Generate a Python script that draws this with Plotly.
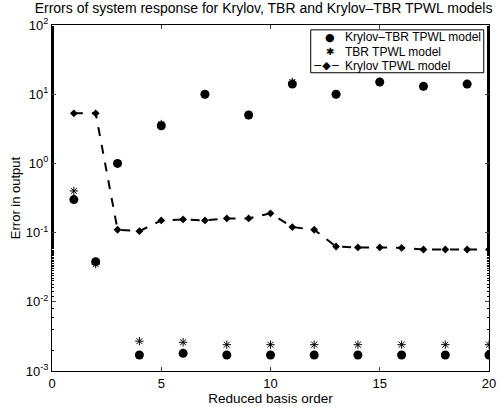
import plotly.graph_objects as go

x = list(range(1, 21))
krylov_tbr = [0.30, 0.038, 1.0, 0.0017, 3.5, 0.0018, 10.0, 0.0017, 5.0, 0.0017,
              14.0, 0.0017, 10.0, 0.0017, 15.0, 0.0017, 13.0, 0.0017, 14.0, 0.0017]
tbr = [0.40, 0.035, 1.0, 0.0027, 3.7, 0.0026, 10.0, 0.0024, 5.0, 0.0024,
       15.0, 0.0024, 10.0, 0.0024, 15.0, 0.0024, 13.0, 0.0024, 14.0, 0.0024]
krylov = [5.3, 5.3, 0.11, 0.105, 0.15, 0.155, 0.15, 0.16, 0.16, 0.19,
          0.12, 0.11, 0.063, 0.061, 0.061, 0.06, 0.057, 0.057, 0.057, 0.057]

names = ["Krylov\u2013TBR TPWL model", "TBR TPWL model", "Krylov TPWL model"]
legend_glyphs = ["\u25CF", "\u2731", "\u2212\u25C6\u2212"]

ytick_vals = [1e-3, 1e-2, 1e-1, 1, 10, 100]
ytick_text = ["10<sup>-3</sup>", "10<sup>-2</sup>", "10<sup>-1</sup>", "10<sup>0</sup>", "10<sup>1</sup>", "10<sup>2</sup>"]
xtick_vals = [0, 5, 10, 15, 20]

FONT = "Liberation Sans, Arial, Helvetica, sans-serif"

fig = go.Figure()
fig.add_trace(go.Scatter(x=x, y=krylov_tbr, mode="markers", name=names[0],
                         marker=dict(symbol="circle", size=9, color="black")))
fig.add_trace(go.Scatter(x=x, y=tbr, mode="markers", name=names[1],
                         marker=dict(symbol="asterisk-open", size=7, color="black",
                                     line=dict(color="black", width=1))))
fig.add_trace(go.Scatter(x=x, y=krylov, mode="lines+markers", name=names[2],
                         line=dict(color="black", width=2, dash="dash"),
                         marker=dict(symbol="diamond", size=6, color="black")))

# compact boxed legend (upper right)
box = dict(x0=0.592, x1=0.988, y0=0.862, y1=0.986)
fig.add_shape(type="rect", xref="paper", yref="paper", **box,
              line=dict(color="black", width=1), fillcolor="white", layer="above")
rows_y = [0.964, 0.923, 0.882]
glyph_x = [0.637, 0.637, 0.629]
for g, n, yy, gx in zip(legend_glyphs, names, rows_y, glyph_x):
    fig.add_annotation(xref="paper", yref="paper", x=gx, y=yy, text=g,
                       showarrow=False, xanchor="center", yanchor="middle",
                       font=dict(family="DejaVu Sans", size=11 if g != legend_glyphs[1] else 10,
                                 color="black"))
    fig.add_annotation(xref="paper", yref="paper", x=0.667, y=yy, text=n,
                       showarrow=False, xanchor="left", yanchor="middle",
                       font=dict(family=FONT, size=12, color="black"))

fig.update_layout(
    width=503, height=407,
    margin=dict(l=52, r=7, t=25, b=36),
    paper_bgcolor="white", plot_bgcolor="white",
    font=dict(family=FONT, size=13, color="black"),
    title=dict(text="Errors of system response for Krylov, TBR and Krylov\u2013TBR TPWL models",
               x=0.484, xref="paper", xanchor="center", y=0.992, yanchor="top",
               font=dict(size=14)),
    showlegend=False,
)
fig.update_xaxes(range=[0, 20], tickvals=xtick_vals, ticks="inside", ticklen=4,
                 showline=True, linecolor="black", linewidth=1, mirror="ticks",
                 showgrid=False, zeroline=False, ticklabeloverflow="allow",
                 title=dict(text="Reduced basis order", standoff=0, font=dict(size=13.5)),
                 tickfont=dict(size=13))
fig.update_yaxes(type="log", range=[-3, 2], tickvals=ytick_vals, ticktext=ytick_text,
                 ticks="inside", ticklen=4,
                 showline=True, linecolor="black", linewidth=1, mirror="ticks",
                 showgrid=False, zeroline=False,
                 minor=dict(ticks="inside", ticklen=2, tickcolor="black", showgrid=False),
                 title=dict(text="Error in output", standoff=2, font=dict(size=13)),
                 tickfont=dict(size=13))

fig.write_html("out.html")
